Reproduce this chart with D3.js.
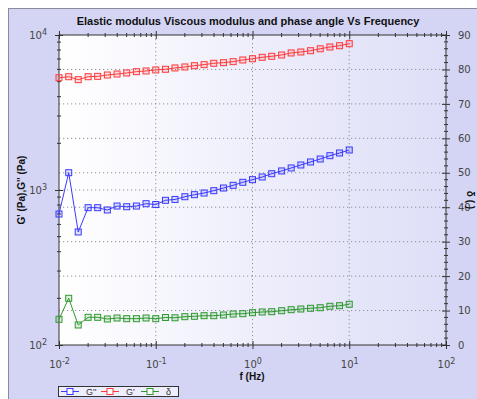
<!DOCTYPE html>
<html>
<head>
<meta charset="utf-8">
<script src="https://cdn.jsdelivr.net/npm/d3@7"></script>
<style>
  body { margin: 0; background: #fff; }
  svg { display: block; font-family: 'Liberation Sans', Arial, sans-serif; }
</style>
</head>
<body>
<div id="chart"></div>
<script>
// DATA
const freq = [0.01, 0.0126, 0.0158, 0.02, 0.0251, 0.0316, 0.0398, 0.0501, 0.0631, 0.0794,
  0.1, 0.126, 0.158, 0.2, 0.251, 0.316, 0.398, 0.501, 0.631, 0.794,
  1, 1.26, 1.58, 2, 2.51, 3.16, 3.98, 5.01, 6.31, 7.94, 10];
const gPrime = [5300, 5380, 5150, 5380, 5410, 5520, 5600, 5690, 5800, 5860,
  5950, 6010, 6130, 6220, 6340, 6440, 6570, 6630, 6730, 6900,
  7030, 7180, 7290, 7430, 7660, 7770, 7920, 8150, 8370, 8530, 8790];
const gDouble = [700, 1293, 536, 769, 769, 743, 788, 780, 788, 816,
  806, 858, 869, 905, 933, 956, 990, 1030, 1072, 1121,
  1166, 1213, 1274, 1327, 1387, 1450, 1516, 1585, 1665, 1733, 1812];
const delta = [7.46, 13.56, 5.81, 8.04, 8.04, 7.55, 7.84, 7.64, 7.64, 7.84,
  7.64, 7.98, 7.90, 8.22, 8.33, 8.51, 8.51, 8.71, 9.0, 9.09,
  9.38, 9.58, 9.67, 9.96, 10.25, 10.45, 10.66, 10.83, 11.24, 11.41, 11.82];
const xTicks = [0.01, 0.1, 1, 10, 100];
const yTicks = [100, 1000, 10000];
const rTicks = [0, 10, 20, 30, 40, 50, 60, 70, 80, 90];
const legendNames = ["G''", "G'", 'δ'];

let width = 477, height = 399;
let margin = { top: 35, bottom: 54, left: 59, right: 31 };
let x0 = margin.left, x1 = width - margin.right, y0 = height - margin.bottom, y1 = margin.top;

let xScale = d3.scaleLog().domain([0.01, 100]).range([x0, x1]);
let yScale = d3.scaleLog().domain([100, 10000]).range([y0, y1]);
let rScale = d3.scaleLinear().domain([0, 90]).range([y0, y1]);

let svg = d3.select('#chart').append('svg').attr('width', width).attr('height', height);

// background frame
svg.append('rect').attr('x', 8.5).attr('y', 8.5).attr('width', 600).attr('height', 600)
  .attr('fill', '#d4d4f4').attr('stroke', '#8a8a9a');

let defs = svg.append('defs');
let grad = defs.append('linearGradient').attr('id', 'bg').attr('x1', '0%').attr('x2', '100%');
grad.append('stop').attr('offset', '0%').attr('stop-color', '#ffffff');
grad.append('stop').attr('offset', '100%').attr('stop-color', '#dedef8');

svg.append('rect').attr('x', x0).attr('y', y1).attr('width', x1 - x0).attr('height', y0 - y1)
  .attr('fill', 'url(#bg)');

// grid
let grid = svg.append('g').attr('stroke', '#8f8f9a').attr('stroke-dasharray', '1.2,2.8');
grid.selectAll('.vg').data([0.1, 1, 10]).join('line')
  .attr('x1', d => xScale(d)).attr('x2', d => xScale(d)).attr('y1', y1).attr('y2', y0);
grid.selectAll('.hg').data(rTicks.slice(1, -1)).join('line')
  .attr('class', 'hg')
  .attr('x1', x0).attr('x2', x1).attr('y1', d => rScale(d)).attr('y2', d => rScale(d));
grid.append('line').attr('x1', x0).attr('x2', x1).attr('y1', yScale(1000)).attr('y2', yScale(1000));

// minor tick values
let logMinor = (lo, hi) => {
  let out = [];
  for (let p = lo; p < hi; p++) for (let k = 2; k < 10; k++) out.push(k * Math.pow(10, p));
  return out;
};
let xMinor = logMinor(-2, 2);
let yMinor = logMinor(2, 4);
let rMinor = d3.range(0, 91, 2).filter(d => d % 10 !== 0);

function supLabel(sel) {
  sel.selectAll('.tick text').each(function (d) {
    let t = d3.select(this);
    t.text(null);
    t.append('tspan').text('10');
    t.append('tspan').attr('dy', '-0.5em').attr('font-size', '8px').text(Math.round(Math.log10(d)));
  });
}

function crossTicks(g, size, vertical) {
  g.selectAll('.tick line').attr('stroke', '#333')
    .attr(vertical ? 'x1' : 'y1', -size).attr(vertical ? 'x2' : 'y2', size);
  g.select('.domain').remove();
}

// minor ticks
let minor = svg.append('g').attr('stroke', '#333');
[y0, y1].forEach(yy => minor.append('g').selectAll('line').data(xMinor).join('line')
  .attr('x1', d => xScale(d)).attr('x2', d => xScale(d)).attr('y1', yy - 2).attr('y2', yy + 2));
minor.append('g').selectAll('line').data(yMinor).join('line')
  .attr('x1', x0 - 2).attr('x2', x0 + 2).attr('y1', d => yScale(d)).attr('y2', d => yScale(d));
minor.append('g').selectAll('line').data(rMinor).join('line')
  .attr('x1', x1 - 2).attr('x2', x1 + 2).attr('y1', d => rScale(d)).attr('y2', d => rScale(d));

// AXES
let xAxis = svg.append('g').attr('transform', `translate(0,${y0})`)
  .call(d3.axisBottom(xScale).tickValues(xTicks).tickPadding(10));
crossTicks(xAxis, 4, false);
supLabel(xAxis);

let xTop = svg.append('g').attr('transform', `translate(0,${y1})`)
  .call(d3.axisTop(xScale).tickValues(xTicks).tickFormat(''));
crossTicks(xTop, 4, false);

let yAxis = svg.append('g').attr('transform', `translate(${x0},0)`)
  .call(d3.axisLeft(yScale).tickValues(yTicks).tickPadding(6));
crossTicks(yAxis, 4, true);
supLabel(yAxis);

let rAxis = svg.append('g').attr('transform', `translate(${x1},0)`)
  .call(d3.axisRight(rScale).tickValues(rTicks).tickPadding(6));
crossTicks(rAxis, 4, true);

svg.selectAll('.tick text').attr('fill', '#444').attr('font-size', 10.5)
  .attr('font-family', "'DejaVu Sans', sans-serif").style('font-size', '10px');

// plot frame
svg.append('rect').attr('x', x0).attr('y', y1).attr('width', x1 - x0).attr('height', y0 - y1)
  .attr('fill', 'none').attr('stroke', '#333');

// titles
svg.append('text').attr('x', 248).attr('y', 25).attr('text-anchor', 'middle')
  .attr('font-weight', 'bold').attr('font-size', 11).attr('fill', '#111')
  .text('Elastic modulus Viscous modulus and phase angle Vs Frequency');
svg.append('text').attr('x', 252).attr('y', 380).attr('text-anchor', 'middle')
  .attr('font-weight', 'bold').attr('font-size', 10).attr('fill', '#111').text('f (Hz)');
svg.append('text').attr('transform', 'translate(25,190) rotate(-90)').attr('text-anchor', 'middle')
  .attr('font-weight', 'bold').attr('font-size', 10).attr('fill', '#111').text("G' (Pa),G'' (Pa)");
svg.append('text').attr('transform', 'translate(467,200) rotate(90)').attr('text-anchor', 'middle')
  .attr('font-weight', 'bold').attr('font-size', 10).attr('fill', '#111').text('δ ( )');

// SERIES
let series = [
  { name: legendNames[0], values: gDouble, scale: yScale, color: '#3a3aff' },
  { name: legendNames[1], values: gPrime, scale: yScale, color: '#ff3a3a' },
  { name: legendNames[2], values: delta, scale: rScale, color: '#2e9a2e' },
];

let plot = svg.append('g');
series.forEach(s => {
  let pts = freq.map((f, i) => [xScale(f), s.scale(s.values[i])]);
  plot.append('path').attr('d', d3.line()(pts)).attr('fill', 'none')
    .attr('stroke', s.color).attr('stroke-width', 1);
  plot.append('g').selectAll('rect').data(pts).join('rect')
    .attr('x', d => d[0] - 3).attr('y', d => d[1] - 3).attr('width', 6).attr('height', 6)
    .attr('fill', s.color).attr('fill-opacity', 0.15).attr('stroke', s.color).attr('stroke-width', 1);
});

// LEGEND
let legend = svg.append('g');
legend.append('rect').attr('x', 58.5).attr('y', 386.5).attr('width', 120).attr('height', 10)
  .attr('fill', '#eeeefc').attr('stroke', '#333');
let lx = d3.scaleLinear().domain([0, 1]).range([61, 101]);
series.forEach((s, i) => {
  let sx = lx(i);
  legend.append('line').attr('x1', sx).attr('x2', sx + 18).attr('y1', 391.5).attr('y2', 391.5)
    .attr('stroke', s.color);
  legend.append('rect').attr('x', sx + 6).attr('y', 388.5).attr('width', 6).attr('height', 6)
    .attr('fill', '#fff').attr('stroke', s.color);
  legend.append('text').attr('x', sx + 25).attr('y', 395).attr('font-size', 9).attr('fill', '#333')
    .text(s.name);
});
</script>
</body>
</html>
